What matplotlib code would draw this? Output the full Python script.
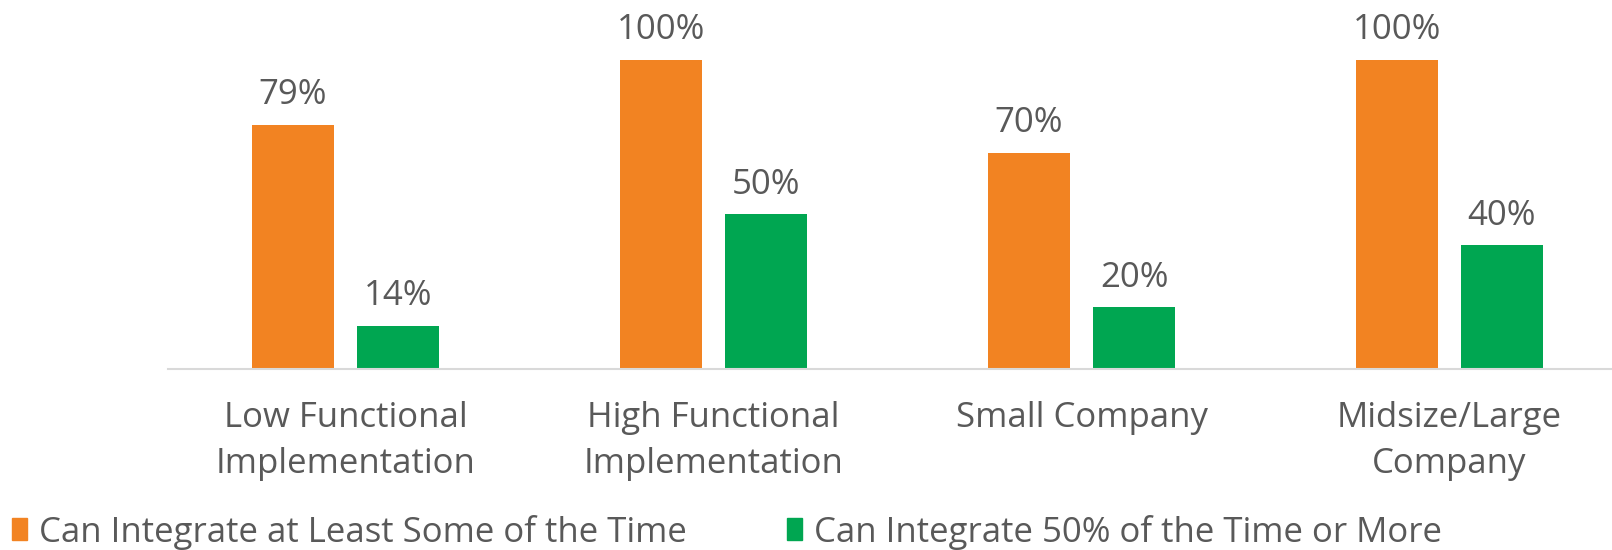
import matplotlib
matplotlib.use("Agg")
import matplotlib.pyplot as plt
from matplotlib.patches import Patch
import numpy as np

categories = ["Low Functional\nImplementation", "High Functional\nImplementation",
              "Small Company", "Midsize/Large\nCompany"]
some_time = [79, 100, 70, 100]
half_time = [14, 50, 20, 40]
series_names = ["Can Integrate at Least Some of the Time",
                "Can Integrate 50% of the Time or More"]

ORANGE = "#F28322"
GREEN = "#00A651"
TEXT = "#595959"

plt.rcParams["font.family"] = ["Open Sans", "DejaVu Sans"]

W, H = 1612, 550
fig = plt.figure(figsize=(W / 100, H / 100), dpi=100)
# axes box in pixels: baseline at y=369 from top, left edge at 168
ax = fig.add_axes([168 / W, 181 / H, (W - 168) / W, 369 / H])

x = np.arange(len(categories))
bw = 82 / 368
off = (82 + 23) / 2 / 368
b1 = ax.bar(x - off, some_time, bw, color=ORANGE)
b2 = ax.bar(x + off, half_time, bw, color=GREEN)

for bars, vals in ((b1, some_time), (b2, half_time)):
    for b, v in zip(bars, vals):
        ax.annotate(f"{v}%", (b.get_x() + b.get_width() / 2, v),
                    xytext=(0, 9), textcoords="offset points",
                    ha="center", va="bottom", fontsize=25, color=TEXT)

ax.set_xlim(-177.5 / 368, 3 + (W - 1449.5) / 368)
ax.set_ylim(0, 369 / 309 * 100)
ax.set_xticks(x)
ax.set_xticklabels(categories, fontsize=25, color=TEXT, linespacing=1.45)
ax.tick_params(axis="x", length=0, pad=23)
ax.set_yticks([])
for s in ["top", "right", "left"]:
    ax.spines[s].set_visible(False)
ax.spines["bottom"].set_color("#D9D9D9")
ax.spines["bottom"].set_linewidth(1.5)

handles = [Patch(color=ORANGE), Patch(color=GREEN)]
fig.legend(handles, series_names, loc="center left", bbox_to_anchor=(12 / W, 18 / H),
           ncol=2, frameon=False, fontsize=25, labelcolor=TEXT,
           handlelength=0.42, handleheight=0.6, handletextpad=0.35,
           columnspacing=2.9, borderpad=0, borderaxespad=0)

fig.savefig("out.png", dpi=100)
